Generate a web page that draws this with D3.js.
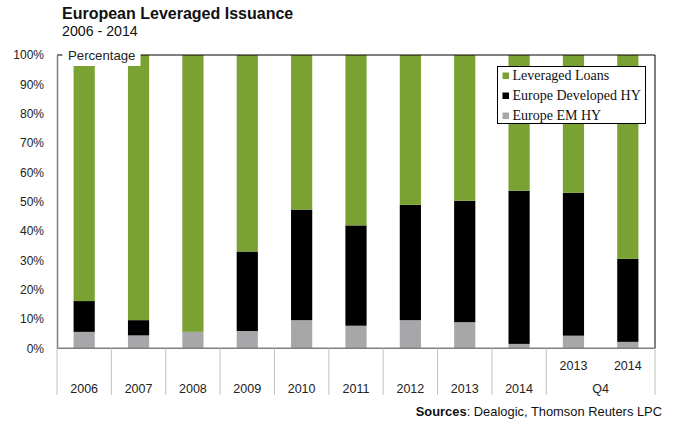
<!DOCTYPE html>
<html>
<head>
<meta charset="utf-8">
<script src="https://cdn.jsdelivr.net/npm/d3@7"></script>
<style>
html,body{margin:0;padding:0;background:#fff;}
svg{display:block;font-family:Arial, "Liberation Sans", sans-serif;}
</style>
</head>
<body>
<svg id="chart" width="675" height="423"></svg>
<script>
// ---- data ----
const categories = ["2006","2007","2008","2009","2010","2011","2012","2013","2014","Q4 2013","Q4 2014"];
const categoryLabels = ["2006","2007","2008","2009","2010","2011","2012","2013","2014","2013","2014"];
const europeEmHY =        [5.6, 4.4, 5.6, 5.9, 9.6, 7.7, 9.6, 8.9, 1.5, 4.3, 2.2];
const europeDevelopedHY = [10.5, 5.2, 0.0, 27.1, 37.7, 34.2, 39.3, 41.4, 52.2, 48.7, 28.3];
const leveragedLoans =    [83.9, 90.4, 94.4, 67.0, 52.7, 58.1, 51.1, 49.7, 46.3, 47.0, 69.5];
const seriesNames = ["Leveraged Loans","Europe Developed HY","Europe EM HY"];
const yTicks = [0,10,20,30,40,50,60,70,80,90,100];

const colors = {"Leveraged Loans":"#7aa232","Europe Developed HY":"#000000","Europe EM HY":"#a7a7aa"};

const rows = categories.map((c,i)=>({cat:c,"Europe EM HY":europeEmHY[i],"Europe Developed HY":europeDevelopedHY[i],"Leveraged Loans":leveragedLoans[i]}));

const svg = d3.select("#chart");
const pLeft = 57, pRight = 655, pTop = 55, pBottom = 348.3;

const x = d3.scaleBand().domain(categories).range([pLeft,pRight]).paddingInner(0.61).paddingOuter(0.305);
const y = d3.scaleLinear().domain([0,100]).range([pBottom,pTop]);

const stack = d3.stack().keys(["Europe EM HY","Europe Developed HY","Leveraged Loans"]);
const stacked = stack(rows);

// bars
svg.append("g").selectAll("g").data(stacked).join("g")
  .attr("fill",d=>colors[d.key])
  .selectAll("rect").data(d=>d).join("rect")
  .attr("x",d=>x(d.data.cat))
  .attr("width",x.bandwidth())
  .attr("y",d=>y(d[1]))
  .attr("height",d=>Math.max(0,y(d[0])-y(d[1])));

// frame: top & right black, left & bottom gray
svg.append("line").attr("x1",pLeft).attr("x2",pRight).attr("y1",pTop).attr("y2",pTop).attr("stroke","#000").attr("stroke-width",1);
svg.append("line").attr("x1",pRight).attr("x2",pRight).attr("y1",pTop).attr("y2",pBottom).attr("stroke","#000").attr("stroke-width",1);

// y axis
const yAxis = d3.axisLeft(y).tickValues(yTicks).tickFormat(d=>d+"%").tickSize(0).tickPadding(13);
const yg = svg.append("g").attr("transform",`translate(${pLeft},0)`).call(yAxis);
yg.select(".domain").attr("stroke","#808080").attr("stroke-width",1.5);
yg.selectAll("text").attr("font-size","12px").attr("fill","#222").attr("font-family","Arial, 'Liberation Sans', sans-serif");

// x axis baseline
svg.append("line").attr("x1",pLeft).attr("x2",pRight).attr("y1",pBottom).attr("y2",pBottom).attr("stroke","#808080").attr("stroke-width",1.5);

// category separators
const step = x.step();
const sepIdx = [0,1,2,3,4,5,6,7,8,9,11];
svg.append("g").selectAll("line").data(sepIdx).join("line")
  .attr("x1",i=>pLeft+step*i).attr("x2",i=>pLeft+step*i)
  .attr("y1",pBottom).attr("y2",395)
  .attr("stroke","#c0c0c0").attr("stroke-width",1);

// category labels
svg.append("g").selectAll("text").data(categories).join("text")
  .attr("x",d=>x(d)+x.bandwidth()/2)
  .attr("y",(d,i)=>i>=9?369.5:393)
  .attr("text-anchor","middle")
  .attr("font-size","12.5px").attr("fill","#222")
  .text((d,i)=>categoryLabels[i]);
svg.append("text")
  .attr("x",(x("Q4 2013")+x("Q4 2014")+x.bandwidth())/2)
  .attr("y",393).attr("text-anchor","middle")
  .attr("font-size","12.5px").attr("fill","#222").text("Q4");

// Percentage label with white box
svg.append("rect").attr("x",62.5).attr("y",44).attr("width",78).attr("height",22).attr("fill","#fff");
svg.append("text").attr("x",68).attr("y",59.5).attr("font-size","13.2px").attr("fill","#222").text("Percentage");

// title
svg.append("text").attr("x",62).attr("y",18.5).attr("font-size","16px").attr("font-weight","bold").attr("fill","#111").text("European Leveraged Issuance");
svg.append("text").attr("x",62).attr("y",35.7).attr("font-size","14.2px").attr("fill","#111").text("2006 - 2014");

// legend
const lg = svg.append("g");
lg.append("rect").attr("x",497.5).attr("y",66.5).attr("width",148).attr("height",57).attr("fill","#fff").attr("stroke","#000").attr("stroke-width",1);
const items = lg.selectAll("g").data(seriesNames).join("g")
  .attr("transform",(d,i)=>`translate(0,${i*20})`);
items.append("rect").attr("x",502.5).attr("y",72.5).attr("width",6.5).attr("height",6.5).attr("fill",d=>colors[d]);
items.append("text").attr("x",512.5).attr("y",80.3)
  .attr("font-family","'Liberation Serif','Times New Roman',serif").attr("font-size","14px").attr("fill","#111")
  .text(d=>d);

// sources
const src = svg.append("text").attr("x",662).attr("y",416).attr("text-anchor","end").attr("font-size","12.9px").attr("fill","#111");
src.append("tspan").attr("font-weight","bold").text("Sources");
src.append("tspan").text(": Dealogic, Thomson Reuters LPC");
</script>
</body>
</html>
